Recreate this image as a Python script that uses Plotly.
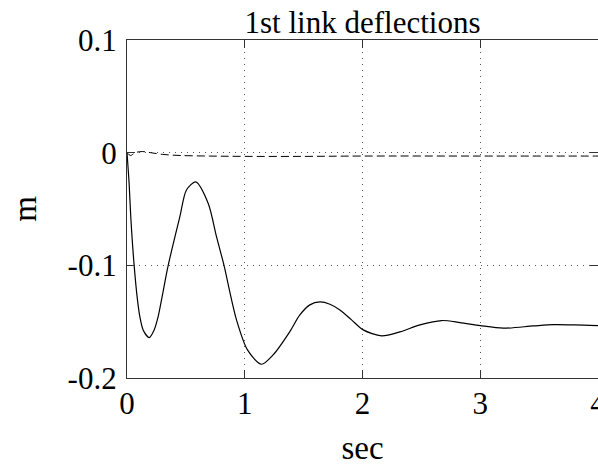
import plotly.graph_objects as go

# Data
t_solid = [0, 0.018, 0.032, 0.061, 0.089, 0.109, 0.137, 0.188, 0.2305, 0.2645, 0.293, 0.349,
           0.449, 0.505, 0.583, 0.689, 0.760, 0.825, 0.882, 0.930, 1.023, 1.142,
           1.241, 1.383, 1.468, 1.553, 1.638, 1.723, 1.808, 1.907, 2.006, 2.162, 2.318,
           2.488, 2.672, 2.828, 3.0, 3.195, 3.45, 3.62, 3.8, 4.0]
y_solid = [0, -0.0272, -0.0568, -0.1005, -0.1307, -0.1455, -0.1573, -0.1641, -0.1573, -0.1455,
           -0.1307, -0.1005, -0.0568, -0.0331, -0.026, -0.0449, -0.0745, -0.1005, -0.1278,
           -0.1484, -0.175, -0.1878, -0.1795, -0.1588, -0.144, -0.1351, -0.1325,
           -0.1345, -0.1396, -0.1484, -0.1573, -0.1626, -0.1591, -0.1529, -0.149, -0.1508,
           -0.1535, -0.1558, -0.1538, -0.1526, -0.1528, -0.1535]

t_dash = [0, 0.03, 0.07, 0.13, 0.2, 0.3, 0.45, 0.7, 1.0, 1.5, 2.0, 3.0, 4.0]
y_dash = [0, -0.0025, 0.0, 0.001, 0.0, -0.0015, -0.0025, -0.003, -0.0033, -0.0033, -0.003, -0.003, -0.003]

x_ticks = [0, 1, 2, 3, 4]
y_ticks = [-0.2, -0.1, 0, 0.1]
y_tick_text = ["-0.2", "-0.1", "0", "0.1"]

FONT = "Times New Roman, Liberation Serif, Tinos, serif"

fig = go.Figure()
fig.add_trace(go.Scatter(x=t_dash, y=y_dash, mode="lines",
                         line=dict(color="black", width=1, dash="8px,4px", shape="spline"),
                         showlegend=False))
fig.add_trace(go.Scatter(x=t_solid, y=y_solid, mode="lines",
                         line=dict(color="black", width=1.2, shape="spline", smoothing=0.8),
                         showlegend=False))

axis_common = dict(
    showline=True, linecolor="#333", linewidth=1.2, mirror="allticks",
    ticks="inside", ticklen=8, tickcolor="#333", tickwidth=1.2,
    showgrid=True, gridcolor="#555", griddash="1px,5px", gridwidth=1,
    zeroline=False, tickfont=dict(family=FONT, size=31, color="black"),
    ticklabeloverflow="allow", automargin=False,
)

fig.update_layout(
    width=598, height=466,
    margin=dict(l=127, r=0, t=40, b=88),
    paper_bgcolor="white", plot_bgcolor="white",
    font=dict(family=FONT, size=31, color="black"),
    title=dict(text="1st link deflections", x=0.5, xref="paper", xanchor="center",
               y=1 - 22 / 466, yref="container", yanchor="middle",
               font=dict(family=FONT, size=31, color="black"), automargin=False),
    xaxis=dict(range=[0, 4], tickvals=x_ticks, ticktext=[str(v) for v in x_ticks],
               title=dict(text="sec", font=dict(family=FONT, size=33), standoff=32),
               ticklabelstandoff=-2, **axis_common),
    yaxis=dict(range=[-0.2, 0.1], tickvals=y_ticks, ticktext=y_tick_text,
               title=dict(text="m", font=dict(family=FONT, size=33), standoff=21),
               ticklabelstandoff=3, **axis_common),
)

fig.write_html("out.html")
